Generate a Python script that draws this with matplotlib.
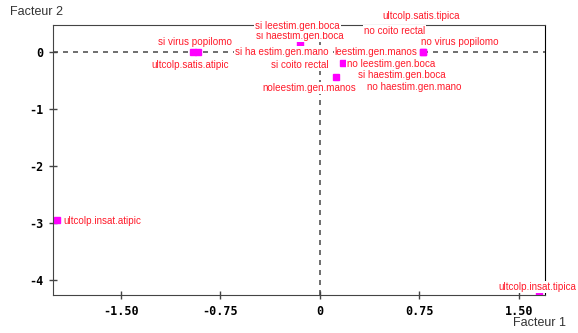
import matplotlib
matplotlib.use("Agg")
import matplotlib.pyplot as plt

# correspondence analysis coordinates (factor 1, factor 2)
labels = [
    "si virus popilomo", "ultcolp.satis.atipic", "ultcolp.insat.atipic",
    "ultcolp.insat.tipica", "no virus popilomo", "leestim.gen.manos",
    "no leestim.gen.boca", "si haestim.gen.boca", "si haestim.gen.boca",
    "si leestim.gen.boca", "si ha estim.gen.mano", "si coito rectal",
    "no coito rectal", "noleestim.gen.manos", "no haestim.gen.mano",
    "ultcolp.satis.tipica",
]
f1 = [-0.96, -0.92, -1.98, 1.65, 0.78, 0.78, 0.17, 0.12, -0.15,
      -0.17, -0.28, -0.15, 0.56, -0.08, 0.71, 0.76]
f2 = [0.0, 0.0, -2.95, -4.25, 0.0, 0.0, -0.19, -0.44, 0.16,
      0.46, 0.0, -0.23, 0.37, -0.63, -0.61, 0.63]

xticks = [-1.5, -0.75, 0, 0.75, 1.5]
xticklabels = ["-1.50", "-0.75", "0", "0.75", "1.50"]
yticks = [0, -1, -2, -3, -4]
yticklabels = ["0", "-1", "-2", "-3", "-4"]

# label placement: offset in pixels and horizontal alignment
placement = [
    (2, 10, "center"), (-8, -13, "center"), (6, -1, "left"),
    (-41, 7, "left"), (36, 10, "center"), (-6, 0, "right"),
    (4, -1, "left"), (22, 2, "left"), (0, 7, "center"),
    (0, 0, "center"), (-1, 0, "center"), (0, 0, "center"),
    (0, 0, "center"), (0, 0, "center"), (0, 0, "center"),
    (0, 0, "center"),
]

fig = plt.figure(figsize=(5.78, 3.33), dpi=100)
ax = fig.add_axes([53 / 578, 38 / 333, 492 / 578, 270 / 333])
ax.set_xlim(-2.012, 1.696)
ax.set_ylim(-4.263, 0.474)

ax.axhline(0, color="#555555", lw=1.2, ls=(0, (3, 3)), zorder=1)
ax.axvline(0, color="#555555", lw=1.2, ls=(0, (3, 3)), zorder=1)

ax.plot(f1, f2, "s", color="#ff00ff", ms=4.5, mec="#ff00ff", zorder=2)

for lab, x, y, (dx, dy, ha) in zip(labels, f1, f2, placement):
    ax.annotate(lab, (x, y), xytext=(dx, dy), textcoords="offset pixels",
                ha=ha, va="center", fontsize=7.1, color="#ff1a2a",
                family="Liberation Sans", annotation_clip=False, zorder=5,
                bbox=dict(boxstyle="square,pad=0.1", fc="white", ec="none"))

for side in ["left", "bottom", "top"]:
    ax.spines[side].set_color("#444444")
ax.spines["right"].set_color("black")

ax.set_xticks(xticks)
ax.set_xticklabels(xticklabels)
ax.set_yticks(yticks)
ax.set_yticklabels(yticklabels)
ax.tick_params(direction="inout", length=6, width=1, color="#444444",
               labelsize=8.5, pad=4)
for t in ax.get_xticklabels() + ax.get_yticklabels():
    t.set_family("DejaVu Sans Mono")
    t.set_fontweight("bold")

fig.text(10 / 578, 1 - 12 / 333, "Facteur 2", fontsize=9, color="#333333",
         family="Liberation Sans", va="center", ha="left")
fig.text(566 / 578, 1 - 323 / 333, "Facteur 1", fontsize=9, color="#333333",
         family="Liberation Sans", va="center", ha="right")

fig.savefig("out.png", dpi=100)
